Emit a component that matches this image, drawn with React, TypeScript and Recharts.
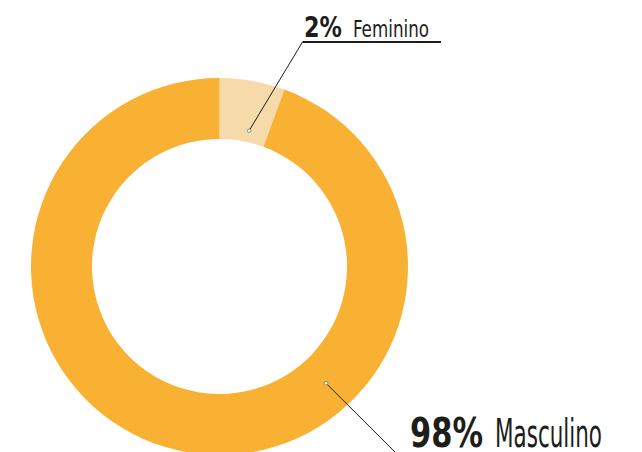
import { PieChart, Pie, Cell } from 'recharts';

// values as drawn (slice sizes)
const categories = ['Feminino', 'Masculino'];
const values = [5.6, 94.4];
const percentLabels = ['2%', '98%'];
const colors = ['#F7DAA9', '#F8B133'];

// annotation placement, relative to the pie centre
const annot = [
  { angle: 77.7, r: 139, elbowX: 83, elbowY: -224.5, lineEnd: 221.5, textX: 84.5, textY: -230, pctW: 38, nameW: 76, gap: 11, pctSize: 29, nameSize: 23, underline: true },
  { angle: -47.6, r: 158, elbowX: 190, elbowY: 200, lineEnd: 0, textX: 190.5, textY: 180.5, pctW: 73, nameW: 107, gap: 12, pctSize: 40, nameSize: 39, underline: false },
];

const data = categories.map((name, i) => ({ name, value: values[i] }));
const RAD = Math.PI / 180;
const font = "'Liberation Sans Narrow', 'DejaVu Sans Condensed', sans-serif";

// eslint-disable-next-line @typescript-eslint/no-explicit-any
function renderLabel(props: any) {
  const { cx, cy, index } = props;
  const a = annot[index];
  const dx = cx + a.r * Math.cos(a.angle * RAD);
  const dy = cy - a.r * Math.sin(a.angle * RAD);
  const ex = cx + a.elbowX;
  const ey = cy + a.elbowY;
  const tx = cx + a.textX;
  const ty = cy + a.textY;
  return (
    <g key={`lab-${index}`}>
      <line x1={dx} y1={dy} x2={ex} y2={ey} stroke="#1d1d1b" strokeWidth={1} />
      {a.underline && <line x1={ex} y1={ey} x2={cx + a.lineEnd} y2={ey} stroke="#1d1d1b" strokeWidth={2} />}
      <circle cx={dx} cy={dy} r={1.8} fill="#fff" stroke="#777" strokeWidth={0.8} />
      <text x={tx} y={ty} fill="#1d1d1b" fontFamily={font} fontWeight={700} fontSize={a.pctSize} textLength={a.pctW} lengthAdjust="spacingAndGlyphs">
        {percentLabels[index]}
      </text>
      <text x={tx + a.pctW + a.gap} y={ty} fill="#1d1d1b" fontFamily={font} fontWeight={400} fontSize={a.nameSize} textLength={a.nameW} lengthAdjust="spacingAndGlyphs">
        {categories[index]}
      </text>
    </g>
  );
}

export default function App() {
  return (
    <div style={{ position: 'fixed', left: 0, top: 0, width: 642, height: 452, background: '#fff' }}>
      <PieChart width={642} height={452} margin={{ top: 0, right: 0, bottom: 0, left: 0 }}>
        <Pie
          data={data}
          dataKey="value"
          nameKey="name"
          cx={219.5}
          cy={266.5}
          innerRadius={127.5}
          outerRadius={188.5}
          startAngle={90}
          endAngle={-270}
          stroke="none"
          label={renderLabel}
          labelLine={false}
          isAnimationActive={false}
        >
          {data.map((d, i) => (
            <Cell key={d.name} fill={colors[i]} />
          ))}
        </Pie>
      </PieChart>
    </div>
  );
}
